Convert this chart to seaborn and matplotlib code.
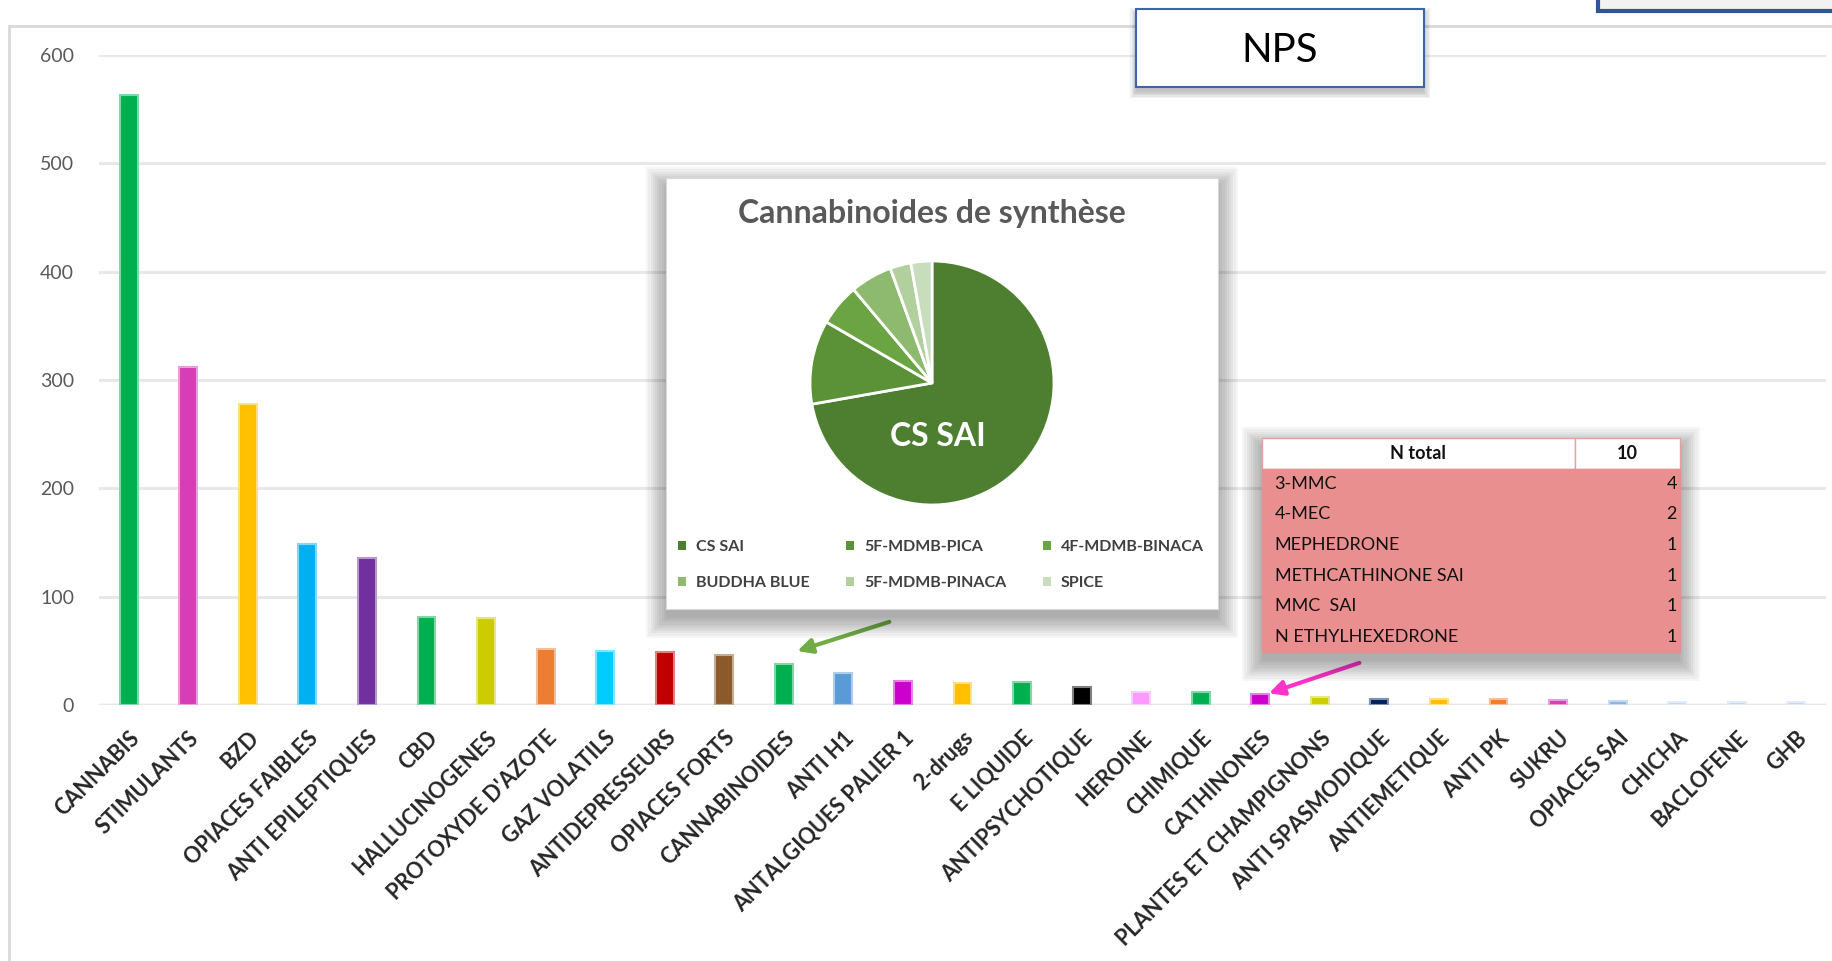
import matplotlib
matplotlib.use("Agg")
import matplotlib.pyplot as plt
import seaborn as sns
import pandas as pd
from matplotlib.colors import to_rgb
from matplotlib.patches import Rectangle, Patch

# --- data -------------------------------------------------------------
categories = ["CANNABIS", "STIMULANTS", "BZD", "OPIACES FAIBLES", "ANTI EPILEPTIQUES",
              "CBD", "HALLUCINOGENES", "PROTOXYDE D'AZOTE", "GAZ VOLATILS",
              "ANTIDEPRESSEURS", "OPIACES FORTS", "CANNABINOIDES", "ANTI H1",
              "ANTALGIQUES PALIER 1", "2-drugs", "E LIQUIDE", "ANTIPSYCHOTIQUE",
              "HEROINE", "CHIMIQUE", "CATHINONES", "PLANTES ET CHAMPIGNONS",
              "ANTI SPASMODIQUE", "ANTIEMETIQUE", "ANTI PK", "SUKRU", "OPIACES SAI",
              "CHICHA", "BACLOFENE", "GHB"]
counts = [563, 312, 278, 149, 136, 81, 80, 52, 50, 49, 46, 38, 30, 22, 20, 21, 17,
          12, 12, 10, 7, 6, 6, 6, 5, 4, 3, 3, 3]
bar_colors = ["#00B050", "#D63DB7", "#FFC000", "#00B0F0", "#7030A0", "#00B050",
              "#CCCC00", "#ED7D31", "#00CCFF", "#C00000", "#8B5A2B", "#00B050",
              "#5B9BD5", "#CC00CC", "#FFC000", "#00B050", "#000000", "#FF99FF",
              "#00B050", "#CC00CC", "#CCCC00", "#002060", "#FFC000", "#ED7D31",
              "#D63DB7", "#8DB4E2", "#C5D9F1", "#C5D9F1", "#C5D9F1"]

pie_labels = ["CS SAI", "5F-MDMB-PICA", "4F-MDMB-BINACA", "BUDDHA BLUE",
              "5F-MDMB-PINACA", "SPICE"]
pie_counts = [26, 4, 2, 2, 1, 1]
pie_colors = ["#4E7F31", "#5B9237", "#6AA443", "#8DBA6E", "#B2D09D", "#C8DDBB"]

cath_names = ["3-MMC", "4-MEC", "MEPHEDRONE", "METHCATHINONE SAI", "MMC  SAI",
              "N ETHYLHEXEDRONE"]
cath_counts = [4, 2, 1, 1, 1, 1]

df = pd.DataFrame({"categorie": categories, "n": counts})

# --- figure -----------------------------------------------------------
W, H = 1833, 961
sns.set_style("white")
plt.rcParams["font.family"] = ["Lato", "DejaVu Sans"]

fig = plt.figure(figsize=(W / 100, H / 100), dpi=100)


def box(x, y, w, h):
    # pixel box measured from the top-left corner -> figure fraction
    return [x / W, 1 - (y + h) / H, w / W, h / H]


def shadow(x, y, w, h, dy=9, steps=10, spread=2.2, alpha=0.035):
    for i in range(steps):
        s = i * spread
        r = box(x - s, y - s + dy, w + 2 * s, h + 2 * s)
        fig.add_artist(Rectangle((r[0], r[1]), r[2], r[3], transform=fig.transFigure,
                                 facecolor="black", edgecolor="none", alpha=alpha, zorder=2))


# outer chart frame
fr = box(9, 26, 1900, 1000)
fig.add_artist(Rectangle((fr[0], fr[1]), fr[2], fr[3], transform=fig.transFigure,
                         fill=False, edgecolor="#D9D9D9", lw=2, zorder=0.5))

ax = fig.add_axes(box(99, 55, 1727, 650))
ax.set_facecolor("none")
sns.barplot(data=df, x="categorie", y="n", hue="categorie", palette=bar_colors,
            width=0.3, saturation=1, legend=False, ax=ax)
# lighter rim round each bar, like the original
for patch, col in zip(ax.patches, bar_colors):
    r, g, b = to_rgb(col)
    patch.set_edgecolor((r + (1 - r) * 0.5, g + (1 - g) * 0.5, b + (1 - b) * 0.5))
    patch.set_linewidth(1.5)
ax.set_xlim(-0.5, len(categories) - 0.5)
ax.set_ylim(0, 600)
ax.set_yticks(range(0, 601, 100))
ax.yaxis.grid(True, color="#E8E8E8", lw=2.2)
ax.set_axisbelow(True)
ax.axhline(0, color="#D9D9D9", lw=2.5, zorder=0.5)
sns.despine(ax=ax, left=True, bottom=True)
ax.set_xlabel("")
ax.set_ylabel("")
ax.tick_params(axis="y", length=0, labelsize=14, labelcolor="#595959", pad=18)
ax.tick_params(axis="x", length=0, pad=16)
ax.set_xticks(range(len(categories)))
ax.set_xticklabels(categories, rotation=45, ha="right", va="top",
                   rotation_mode="anchor", fontweight="bold", fontsize=15.5)

# arrows to the detailed categories
i_cb = categories.index("CANNABINOIDES")
ax.annotate("", xy=(i_cb + 0.18, counts[i_cb] + 11), xytext=(892, H - 621),
            textcoords="figure pixels", annotation_clip=False,
            arrowprops=dict(arrowstyle="-|>", color="#70AD47", lw=3, mutation_scale=22))
i_ca = categories.index("CATHINONES")
ax.annotate("", xy=(i_ca + 0.1, counts[i_ca]), xytext=(1362, H - 662),
            textcoords="figure pixels", annotation_clip=False,
            arrowprops=dict(arrowstyle="-|>", color="#FF33CC", lw=3, mutation_scale=22))

# --- pie inset --------------------------------------------------------
shadow(666, 178, 552, 431)
bx = fig.add_axes(box(666, 178, 552, 431), zorder=3)
bx.set_facecolor("white")
bx.set_xticks([])
bx.set_yticks([])
for sp in bx.spines.values():
    sp.set_color("#D9D9D9")
    sp.set_linewidth(0.8)

pa = fig.add_axes(box(810, 261, 244, 244), zorder=4)
wedges, _ = pa.pie(pie_counts, colors=pie_colors, startangle=90, counterclock=False,
                   wedgeprops=dict(edgecolor="white", linewidth=2))
pa.set_xlim(-1, 1)
pa.set_ylim(-1, 1)
pa.set_aspect("equal")
pa.text(0.05, -0.44, pie_labels[0], color="white", fontsize=23, fontweight="bold",
        ha="center", va="center")

fig.text(932 / W, 1 - 214 / H, "Cannabinoides de synthèse", ha="center", va="center",
         fontsize=23, fontweight="bold", color="#595959", zorder=5)

order = [0, 3, 1, 4, 2, 5]
handles = [Patch(facecolor=pie_colors[k], edgecolor="none", label=pie_labels[k]) for k in order]
leg = fig.legend(handles=handles, ncol=3, loc="upper left",
                 bbox_to_anchor=(664 / W, 1 - 526 / H), frameon=False,
                 fontsize=11.5, handlelength=0.5, handleheight=0.5, handletextpad=0.6,
                 columnspacing=2.3, labelspacing=1.35)
for t in leg.get_texts():
    t.set_color("#404040")
    t.set_fontweight("bold")
leg.set_zorder(5)

# --- cathinones table -------------------------------------------------
shadow(1262, 438, 418, 214)
tax = fig.add_axes(box(1262, 438, 418, 214), zorder=3)
tax.axis("off")
rows = [["N total", str(sum(cath_counts))]] + [[n, str(c)] for n, c in zip(cath_names, cath_counts)]
tbl = tax.table(cellText=rows, colWidths=[0.748, 0.252], bbox=[0, 0, 1, 1], cellLoc="left")
tbl.auto_set_font_size(False)
tbl.set_fontsize(13)
for (r, c), cell in tbl.get_celld().items():
    txt = cell.get_text()
    if r == 0:
        cell.set_facecolor("white")
        cell.set_edgecolor("#E6A0A0")
        cell.set_linewidth(1)
        txt.set_ha("center")
        txt.set_fontweight("bold")
    else:
        cell.set_facecolor("#EA8F8F")
        cell.set_edgecolor("#EA8F8F")
        if c == 0:
            cell.PAD = 0.04
        else:
            txt.set_ha("right")
            cell.PAD = 0.03
    txt.set_color("#111111")

# --- NPS box and top-right box ---------------------------------------
shadow(1136, 9, 288, 78, dy=5, steps=5, spread=1.5, alpha=0.05)
nb = box(1136, 9, 288, 78)
fig.add_artist(Rectangle((nb[0], nb[1]), nb[2], nb[3], transform=fig.transFigure,
                         facecolor="white", edgecolor="#3A64AE", lw=1.5, zorder=3))
fig.text(1280 / W, 1 - 51 / H, "NPS", ha="center", va="center", fontsize=29,
         color="black", zorder=4)

tb = box(1598, -10, 260, 21)
fig.add_artist(Rectangle((tb[0], tb[1]), tb[2], tb[3], transform=fig.transFigure,
                         facecolor="#F2F2F2", edgecolor="#2F5597", lw=3, zorder=3))

fig.savefig("out.png", dpi=100)
